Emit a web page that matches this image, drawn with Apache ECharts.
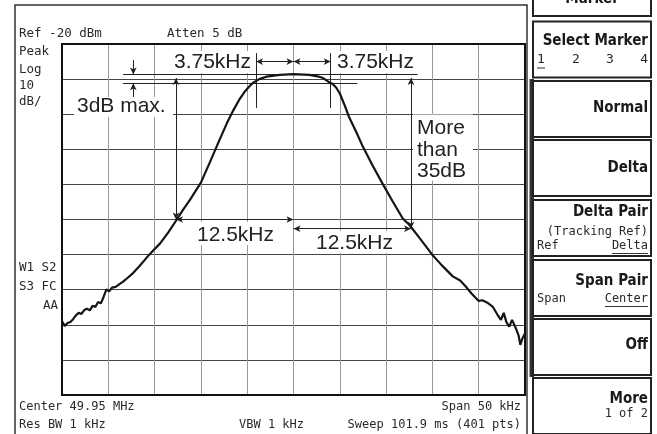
<!DOCTYPE html>
<html><head><meta charset="utf-8">
<script src="https://cdn.jsdelivr.net/npm/echarts@6/dist/echarts.min.js"></script>
<style>html,body{margin:0;padding:0;background:#fff;overflow:hidden}#c{width:657px;height:434px}</style>
</head><body><div id="c"></div>
<script>
// ---- data (frequency offset from 49.95 MHz centre, kHz ; level, dBm) ----
const freqOffsetKHz = [
 -25.0,-24.7,-24.4,-24.1,-23.8,-23.5,-23.2,-22.9,-22.6,-22.3,-22.0,-21.7,-21.4,-21.1,-20.8,-20.5,-20.2,-19.9,-19.6,-19.2,
 -18.8,-18.4,-17.9,-17.3,-16.6,-15.9,-15.1,-14.4,-13.5,-12.6,-11.9,-11.2,-10.0,-9.0,-8.0,-7.2,-6.5,-5.8,-5.3,-4.8,
 -4.4,-3.7,-2.9,-1.5,0.0,1.7,2.6,3.2,3.8,4.2,4.6,5.0,5.5,6.0,6.8,7.5,8.5,9.6,10.7,11.8,
 12.5,13.5,15.0,16.0,17.2,18.0,18.6,19.2,20.0,20.4,21.0,21.5,22.0,22.4,22.7,23.0,23.3,23.6,24.0,24.3,24.5,24.7,25.0
];
const levelDBm = [
 -99.0,-100.3,-99.5,-99.2,-98.4,-97.3,-96.6,-96.9,-95.8,-95.4,-95.9,-94.6,-94.9,-93.5,-93.9,-92.0,-89.9,-90.5,-89.4,-89.2,
 -88.4,-87.7,-86.6,-85.2,-83.2,-81.0,-78.7,-76.8,-73.6,-70.0,-67.1,-64.5,-59.5,-53.5,-47.4,-42.6,-38.9,-35.6,-33.7,-32.2,
 -31.1,-30.0,-29.3,-28.8,-28.6,-28.8,-29.2,-29.7,-30.8,-31.3,-32.4,-34.1,-37.3,-40.8,-45.2,-49.3,-54.4,-59.7,-64.8,-69.7,
 -71.5,-74.9,-80.1,-83.0,-86.2,-87.4,-89.1,-91.0,-93.2,-93.0,-93.8,-94.8,-97.0,-98.6,-96.6,-99.3,-100.5,-98.6,-100.9,-103.0,-105.7,-104.0,-102.5
];
const xTicks = [-25,-20,-15,-10,-5,0,5,10,15,20,25];
const yTicks = [-120,-110,-100,-90,-80,-70,-60,-50,-40,-30,-20];

// measurement annotations, in data units: [x1, y1, x2, y2, arrowAtStart, arrowAtEnd]
const markerSegments = [
 [-18.4,-28.7, 13.4,-28.7, 0,0],
 [-18.4,-31.2,  6.9,-31.2, 0,0],
 [-17.3,-24.6,-17.3,-28.7, 0,1],
 [-17.3,-35.4,-17.3,-31.2, 0,1],
 [-4.05,-22.6,-4.05,-38.2, 0,0],
 [ 4.02,-22.6, 4.02,-38.2, 0,0],
 [-4.05,-25.0, 0.0,-25.0, 1,1],
 [ 0.0,-25.0, 4.02,-25.0, 1,1],
 [-12.69,-29.7,-12.69,-70.0, 1,1],
 [ 12.69,-29.7, 12.69,-72.6, 1,1],
 [-12.69,-70.0, 0.0,-70.0, 1,1],
 [ 0.0,-72.6, 12.69,-72.6, 1,1]
];

// texts
const screenTop = ['Ref -20 dBm','Atten 5 dB'];
const screenLeft = ['Peak','Log','10','dB/'];
const screenStatus = ['W1 S2','S3 FC','AA'];
const screenBottom = ['Center 49.95 MHz','Span 50 kHz','Res BW 1 kHz','VBW 1 kHz','Sweep 101.9 ms (401 pts)'];
const annoTexts = ['3.75kHz','3.75kHz','3dB max.','More','than','35dB','12.5kHz','12.5kHz'];
const softkeys = ['Marker','Select Marker','Normal','Delta','Delta Pair','Span Pair','Off','More'];

const MONO = '"DejaVu Sans Mono","Liberation Mono",monospace';
const COND = '"DejaVu Sans Condensed","DejaVu Sans",sans-serif';
const SANS = '"Liberation Sans",Arial,sans-serif';

const G = [];
function txt(s, x, y, font, align, z, fill){
  G.push({type:'text', z: z||60, silent:true, style:{text:s, x:x, y:y, font:font, fill:fill||'#2a2a2a', textAlign:align||'left', textVerticalAlign:'middle'}});
}
function rect(x,y,w,h,style,z){ G.push({type:'rect', z:z||5, silent:true, shape:{x:x,y:y,width:w,height:h}, style:style}); }
function line(x1,y1,x2,y2,stroke,w,z){ G.push({type:'line', z:z||60, silent:true, shape:{x1:x1,y1:y1,x2:x2,y2:y2}, style:{stroke:stroke,lineWidth:w}}); }

// screen frame
rect(15,5,512,440,{fill:'none',stroke:'#333',lineWidth:1.5},1);
rect(529.5,79,4.5,298,{fill:'#333'},3);

// screen texts
const m12 = '12.5px ' + MONO;
txt(screenTop[0],19,34,m12); txt(screenTop[1],167,34,m12);
[52,69.5,86,101.5].forEach((y,i)=>txt(screenLeft[i],19,y,m12));
txt(screenStatus[0],19,268,m12); txt(screenStatus[1],19,287,m12); txt(screenStatus[2],58,306,m12,'right');
txt(screenBottom[0],19,407,'12px '+MONO); txt(screenBottom[1],521,407,'12px '+MONO,'right');
txt(screenBottom[2],19,425,'12px '+MONO); txt(screenBottom[3],239,425,'12px '+MONO); txt(screenBottom[4],521,425,'12px '+MONO,'right');

// softkey panel
const boxTops = [-40,21.5,81,140,200,260,319,378];
boxTops.forEach(t=>rect(533,t,118,56,{fill:'#fff',stroke:'#222',lineWidth:2},4));
const b15 = 'bold 15px ' + COND;
txt(softkeys[0],592,-1,b15,'center',10,'#1a1a1a');
txt(softkeys[1],648,41.5,b15,'right',10,'#1a1a1a');
const r13 = '13px ' + MONO;
txt('1',537,60,r13,'left',10); txt('2',576,60,r13,'center',10); txt('3',610,60,r13,'center',10); txt('4',648,60,r13,'right',10);
line(537,68,545,68,'#333',1,10);
txt(softkeys[2],648,108.5,b15,'right',10,'#1a1a1a');
txt(softkeys[3],648,168.5,b15,'right',10,'#1a1a1a');
txt(softkeys[4],648,212,b15,'right',10,'#1a1a1a');
const r12 = '12px ' + MONO;
txt('(Tracking Ref)',648,231.5,r12,'right',10);
txt('Ref',537,246,r12,'left',10); txt('Delta',648,246,r12,'right',10); line(612,253.5,648,253.5,'#333',1,10);
txt(softkeys[5],648,281.5,b15,'right',10,'#1a1a1a');
txt('Span',537,299,r12,'left',10); txt('Center',648,299,r12,'right',10); line(605,306.5,648,306.5,'#333',1,10);
txt(softkeys[6],648,345,b15,'right',10,'#1a1a1a');
txt(softkeys[7],648,399,b15,'right',10,'#1a1a1a');
txt('1 of 2',648,413.5,r12,'right',10);

// annotation labels with white boxes
const W = {fill:'#fff'};
rect(170,51,84,22,W,40); rect(334,51,82,22,W,40);
rect(74,97,99,20,W,40); rect(413,114.5,60,66,W,40);
rect(192,222,84,23,W,40); rect(313,231,84,22,W,40);
const a21 = '21px ' + SANS;
txt(annoTexts[0],174,62.5,a21,'left',60,'#222');
txt(annoTexts[1],337,62.5,a21,'left',60,'#222');
txt(annoTexts[2],77,106.5,a21,'left',60,'#222');
txt(annoTexts[3],417,128,a21,'left',60,'#222');
txt(annoTexts[4],417,150,a21,'left',60,'#222');
txt(annoTexts[5],417,171,a21,'left',60,'#222');
txt(annoTexts[6],197,235,a21,'left',60,'#222');
txt(annoTexts[7],316,243,a21,'left',60,'#222');

const chart = echarts.init(document.getElementById('c'), null, {renderer:'canvas'});
chart.setOption({
  animation:false,
  backgroundColor:'#fff',
  grid:{left:62,top:44,width:463,height:351,show:true,borderColor:'#111',borderWidth:2,backgroundColor:'transparent',z:2},
  xAxis:{type:'value',min:xTicks[0],max:xTicks[xTicks.length-1],interval:5,
    axisLine:{show:false},axisTick:{show:false},axisLabel:{show:false},
    splitLine:{show:true,lineStyle:{color:'#999',width:1}}},
  yAxis:{type:'value',min:yTicks[0],max:yTicks[yTicks.length-1],interval:10,
    axisLine:{show:false},axisTick:{show:false},axisLabel:{show:false},
    splitLine:{show:true,lineStyle:{color:'#444',width:1}}},
  series:[{
    type:'line', data:freqOffsetKHz.map((f,i)=>[f,levelDBm[i]]),
    showSymbol:false, symbol:'none', z:5,
    lineStyle:{color:'#151515',width:2.2},
    markLine:{
      silent:true, animation:false, precision:3, symbolSize:[5,7],
      label:{show:false}, emphasis:{disabled:true},
      lineStyle:{color:'#222',width:1,type:'solid'},
      data: markerSegments.map(s=>[
        {coord:[s[0],s[1]], symbol:s[4]?'arrow':'none'},
        {coord:[s[2],s[3]], symbol:s[5]?'arrow':'none'}
      ])
    }
  }],
  graphic:{elements:G}
});
</script></body></html>
